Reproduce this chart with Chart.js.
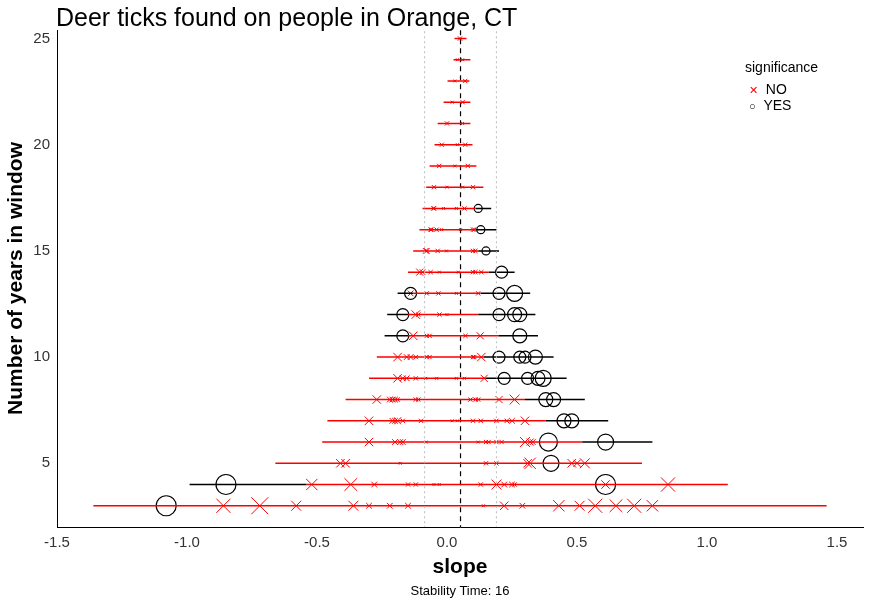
<!DOCTYPE html>
<html><head><meta charset="utf-8">
<script src="https://cdn.jsdelivr.net/npm/chart.js@4"></script>
<style>
body{margin:0;background:#fff;font-family:"Liberation Sans",Arial,sans-serif;}
#wrap{position:relative;width:876px;height:604px;}
#title{position:absolute;left:56px;top:3px;font-size:25px;color:#000;}
#sub{position:absolute;left:0;width:920px;text-align:center;top:583px;font-size:13px;}
#leg{position:absolute;left:745px;top:59px;font-size:14px;}
#leg div{margin-top:3px}
</style></head><body>
<div id="wrap"><canvas id="c" width="876" height="604"></canvas>
<div id="title">Deer ticks found on people in Orange, CT</div>
<div id="sub">Stability Time: 16</div>
<div id="leg">significance<div style="margin-left:4px;margin-top:6px"><span style="color:red;font-size:11px">✕</span>&nbsp;&nbsp;NO</div><div style="margin-left:4px;margin-top:0"><span style="font-size:11px">○</span>&nbsp;&nbsp;YES</div></div>
</div>
<script>
const xTicks=[-1.5,-1.0,-0.5,0.0,0.5,1.0,1.5];
const yTicks=[5,10,15,20,25];
// red (non-significant) interval spans per window length
const redYears=[3,4,5,6,7,8,9,10,11,12,13,14,15,16,17,18,19,20,21,22,23,24,25];
const redLo=[-1.36,-0.54,-0.66,-0.48,-0.46,-0.39,-0.30,-0.27,-0.15,-0.15,-0.13,-0.15,-0.13,-0.106,-0.094,-0.08,-0.067,-0.048,-0.036,-0.013,0.002,0.025,0.029];
const redHi=[1.46,1.08,0.75,0.52,0.38,0.30,0.15,0.14,0.20,0.12,0.13,0.16,0.12,0.11,0.11,0.14,0.113,0.098,0.09,0.09,0.086,0.09,0.075];
// black (significant) interval segments
const blkYears=[4,6,7,8,9,10,11,11,12,12,13,13,14,15,16,17];
const blkLo=[-0.99,0.52,0.38,0.30,0.15,0.14,-0.24,0.20,-0.23,0.12,-0.19,0.13,0.16,0.12,0.11,0.11];
const blkHi=[-0.54,0.79,0.62,0.53,0.46,0.41,-0.15,0.35,-0.15,0.34,-0.13,0.32,0.26,0.20,0.19,0.17];
// non-significant estimates: years, slope, marker size
const noYears=[3,3,3,3,3,3,3,3,3,3,3,3,3,3,3,3, 4,4,4,4,4,4,4,4,4,4,4,4,4,4, 5,5,5,5,5,5,5,5,5,5, 6,6,6,6,6,6,6,6,6,6,6,6,6, 7,7,7,7,7,7,7,7,7,7,7,7,7,7, 8,8,8,8,8,8,8,8,8,8,8,8, 9,9,9,9,9,9,9,9,9, 10,10,10,10,10,10,10,10,10, 11,11,11,11,11, 12,12,12,12, 13,13,13,13,13, 14,14,14,14,14,14,14,14, 15,15,15,15,15,15, 16,16,16,16,16,16,16, 17,17,17,17,17, 18,18,18,18, 19,19,19, 20,20,20, 21,21, 22,22, 23,23, 24,24, 25];
const noSlope=[-0.86,-0.72,-0.58,-0.36,-0.30,-0.22,-0.15,0.14,0.22,0.29,0.43,0.51,0.57,0.65,0.72,0.79,
 -0.52,-0.37,-0.28,-0.15,-0.12,-0.05,-0.03,0.13,0.19,0.22,0.25,0.26,0.61,0.85,
 -0.41,-0.39,-0.18,0.15,0.19,0.31,0.32,0.48,0.50,0.53,
 -0.30,-0.20,-0.18,-0.17,-0.08,0.12,0.15,0.16,0.19,0.21,0.30,0.32,0.33,
 -0.30,-0.21,-0.20,-0.19,-0.17,-0.10,0.02,0.04,0.10,0.13,0.19,0.23,0.25,0.30,
 -0.27,-0.22,-0.21,-0.20,-0.19,-0.12,-0.11,0.09,0.11,0.12,0.20,0.26,
 -0.19,-0.17,-0.155,-0.12,-0.082,-0.04,0.036,0.067,0.143,
 -0.19,-0.155,-0.14,-0.12,-0.078,-0.067,0.10,0.105,0.132,
 -0.13,-0.078,-0.067,0.071,0.128,
 -0.12,-0.11,-0.029,0.0,
 -0.14,-0.078,-0.033,0.036,0.12,
 -0.105,-0.094,-0.063,-0.029,0.044,0.10,0.109,0.132,
 -0.082,-0.078,-0.036,-0.002,0.10,0.109,
 -0.063,-0.06,-0.04,-0.021,0.052,0.10,0.105,
 -0.052,-0.05,-0.013,0.036,0.067,
 -0.05,0.0,0.06,0.10,
 -0.03,0.03,0.08,
 -0.02,0.04,0.07,
 0.0,0.06,
 0.02,0.06,
 0.03,0.07,
 0.04,0.06,
 0.05];
const noSize=[10,12,7,7,4,4,4,2,6,4,8,7,10,9,10,8, 8,9,4,3,3,2,2,3,7,4,4,3,6,10, 6,6,2,3,3,6,8,6,5,7, 6,4,4,4,2,2,3,3,3,3,7,5,4, 6,4,4,5,3,3,2,2,3,3,3,3,4,6, 6,4,4,4,3,3,3,3,3,3,5,7, 6,4,4,3,2,2,2,2,5, 6,4,4,3,3,3,3,3,6, 6,3,3,3,5, 6,3,3,2, 4,3,3,2,3, 5,4,3,2,2,3,3,3, 4,4,3,2,3,3, 3,3,3,2,2,3,3, 3,3,2,2,3, 3,2,2,3, 3,2,3, 3,2,3, 3,2, 2,3, 2,3, 2,2, 3];
// significant estimates
const yesYears=[3,4,4,5,6,6,7,7,8,8,9,9,9,9,10,10,10,10,11,11,12,12,12,12,13,13,13,14,15,16,17];
const yesSlope=[-1.08,-0.85,0.61,0.40,0.39,0.61,0.45,0.48,0.38,0.41,0.22,0.31,0.35,0.37,0.20,0.28,0.30,0.34,-0.17,0.28,-0.17,0.20,0.26,0.28,-0.14,0.20,0.26,0.21,0.15,0.13,0.12];
const yesSize=[10,10,10,8,9,8,7,7,7,7,6,6,7,8,6,6,6,7,6,7,6,6,7,7,6,6,8,6,4,4,4];

const segData=(ys,lo,hi)=>{const d=[];ys.forEach((y,i)=>{d.push({x:lo[i],y:y},{x:hi[i],y:y},{x:hi[i],y:null});});return d;};
const pts=(ys,xs)=>ys.map((y,i)=>({x:xs[i],y:y}));
const vline=(x)=>[{x:x,y:1},{x:x,y:27}];
new Chart(document.getElementById('c'),{
 type:'scatter',
 data:{datasets:[
  {type:'line',data:vline(-0.086),borderColor:'#bbb',borderWidth:1,borderDash:[2,3],pointRadius:0},
  {type:'line',data:vline(0.19),borderColor:'#bbb',borderWidth:1,borderDash:[2,3],pointRadius:0},
  {type:'line',data:segData(redYears,redLo,redHi),borderColor:'red',borderWidth:1.5,pointRadius:0,spanGaps:false},
  {type:'line',data:segData(blkYears,blkLo,blkHi),borderColor:'black',borderWidth:1.5,pointRadius:0,spanGaps:false},
  {type:'line',data:vline(0.052),borderColor:'#000',borderWidth:1.2,borderDash:[5,4],pointRadius:0},
  {data:pts(noYears,noSlope),pointStyle:'crossRot',pointRadius:noSize,borderColor:'red',borderWidth:1},
  {data:pts(yesYears,yesSlope),pointStyle:'circle',pointRadius:yesSize,borderColor:'black',backgroundColor:'rgba(0,0,0,0)',borderWidth:1.2}
 ]},
 options:{animation:false,responsive:false,
  layout:{padding:{top:30,right:0,bottom:20,left:0}},
  plugins:{legend:{display:false},tooltip:{enabled:false}},
  scales:{
   x:{type:'linear',min:-1.5,max:1.6,grid:{display:false,tickLength:4},border:{color:'#000'},
     afterBuildTicks:s=>{s.ticks=xTicks.map(v=>({value:v}));},
     ticks:{color:'#333',font:{size:15,family:'Liberation Sans'},callback:v=>v.toFixed(1)},
     title:{display:true,text:'slope',color:'#000',font:{size:21,weight:'bold',family:'Liberation Sans'},padding:{top:4}},
     afterFit:s=>{s.height=57;}},
   y:{type:'linear',min:2,max:25.4,grid:{display:false,tickLength:4},border:{color:'#000'},
     afterBuildTicks:s=>{s.ticks=yTicks.map(v=>({value:v}));},
     ticks:{color:'#333',font:{size:15,family:'Liberation Sans'}},
     title:{display:true,text:'Number of years in window',color:'#000',font:{size:21,weight:'bold',family:'Liberation Sans'},padding:{bottom:2}},
     afterFit:s=>{s.width=57;}}
  }}
});
</script></body></html>
